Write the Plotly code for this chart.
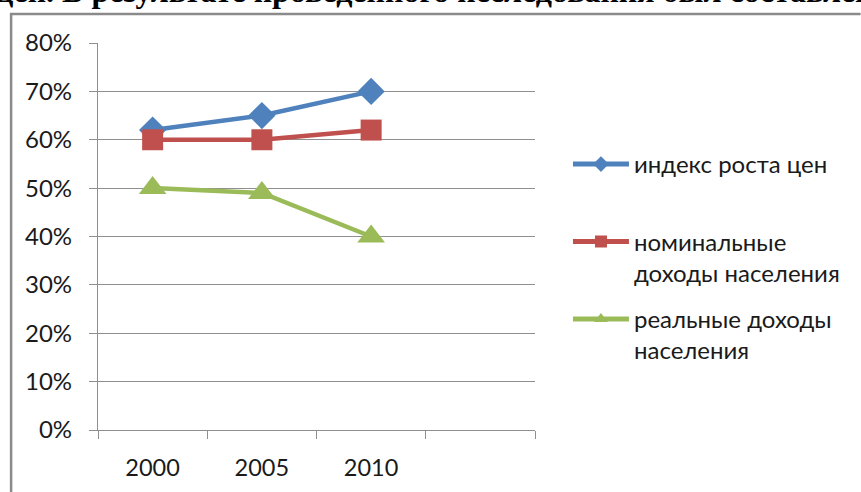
import plotly.graph_objects as go

categories = ["2000", "2005", "2010"]
price_index = [62, 65, 70]
nominal_income = [60, 60, 62]
real_income = [50, 49, 40]
series_names = [
    "индекс роста цен<br> ",
    "номинальные<br>доходы населения",
    "реальные доходы<br>населения",
]
y_ticks = [0, 10, 20, 30, 40, 50, 60, 70, 80]
y_labels = [f"{v}%" for v in y_ticks]
heading = "цен. В результате проведенного исследования был составлен"

W, H = 861, 492
L, R, T, B = 97.5, 535, 43, 430
pw, ph = R - L, B - T

def px_x(p):
    return (p - L) / pw

def px_y(p):
    return (B - p) / ph

FONT = "Lato, Carlito, Calibri, 'Liberation Sans', sans-serif"
GRID = "#8f8f8f"
FRAME = "#8a8a8a"
xs = list(range(len(categories)))

fig = go.Figure()
styles = [
    (price_index, "#4F81BD", "diamond", 21),
    (nominal_income, "#C0504D", "square", 21),
    (real_income, "#9BBB59", "triangle-up", 24),
]
for (vals, col, sym, sz), name in zip(styles, series_names):
    fig.add_trace(go.Scatter(
        x=xs, y=vals, name=name, mode="lines+markers",
        line=dict(color=col, width=4.5),
        marker=dict(color=col, symbol=sym, size=sz),
        legendgroup=name,
    ))

fig.update_layout(
    width=W, height=H,
    margin=dict(l=L, r=W - R, t=T, b=H - B, pad=0, autoexpand=False),
    paper_bgcolor="white", plot_bgcolor="white",
    font=dict(family=FONT, size=24, color="#1a1a1a"),
    showlegend=True,
    legend=dict(
        x=px_x(568), xanchor="left", y=px_y(142), yanchor="top",
        valign="top", itemsizing="constant", itemwidth=56,
        tracegroupgap=12, font=dict(family=FONT, size=24, color="#1a1a1a"),
        bgcolor="rgba(0,0,0,0)",
    ),
    xaxis=dict(
        range=[-0.5, 3.5], tickvals=xs, ticktext=categories,
        ticks="", showgrid=False, zeroline=False, automargin=False,
        showline=True, linecolor=GRID, linewidth=1.3,
        ticklabelstandoff=17, tickfont=dict(size=23.5),
        minor=dict(tickvals=[-0.5, 0.5, 1.5, 2.5, 3.5], ticks="outside",
                   ticklen=8, tickcolor=GRID, tickwidth=1.3, showgrid=False),
        fixedrange=True,
    ),
    yaxis=dict(
        range=[0, 80], tickvals=y_ticks, ticktext=y_labels,
        ticks="outside", ticklen=8, tickcolor=GRID, tickwidth=1.3,
        showgrid=True, gridcolor=GRID, gridwidth=1.3, automargin=False,
        zeroline=False, showline=True, linecolor=GRID, linewidth=1.3,
        ticklabelstandoff=12, fixedrange=True,
    ),
)

fig.add_annotation(
    text="<b>" + heading + "</b>", xref="paper", yref="paper",
    x=px_x(-8), xanchor="left", y=px_y(11), yanchor="bottom",
    showarrow=False, bgcolor="rgba(0,0,0,0)",
    font=dict(family="'Liberation Serif', 'Times New Roman', serif", size=32, color="black"),
)

# chart frame: only its left and top edges fall inside the picture
fig.add_shape(type="line", xref="paper", yref="paper", layer="above",
              x0=px_x(10.5), x1=px_x(10.5), y0=px_y(H), y1=px_y(14),
              line=dict(color=FRAME, width=2.5))
fig.add_shape(type="line", xref="paper", yref="paper", layer="above",
              x0=px_x(9.3), x1=px_x(W), y0=px_y(14), y1=px_y(14),
              line=dict(color=FRAME, width=2.5))

fig.write_html(
    "out.html",
    config={"displayModeBar": False},
    post_script="document.body.style.margin='0';document.body.style.overflow='hidden';",
)
